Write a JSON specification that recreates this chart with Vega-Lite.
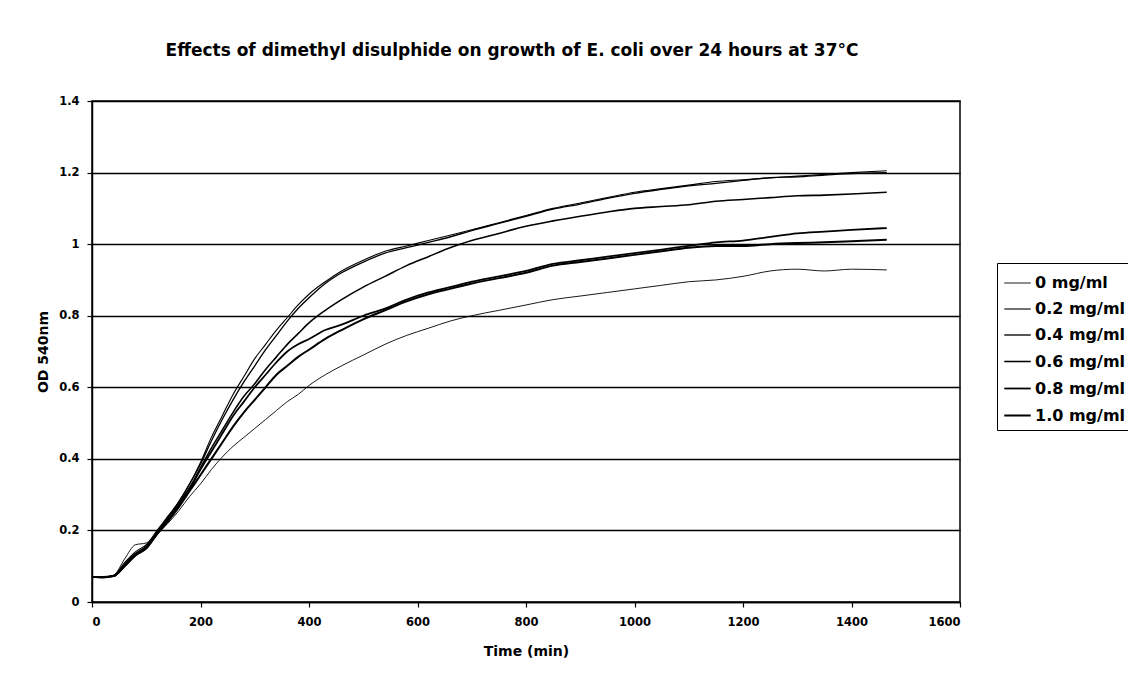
{
  "$schema": "https://vega.github.io/schema/vega-lite/v6.json",
  "width": 868,
  "height": 501,
  "autosize": {"type": "none"},
  "padding": {"left": 92, "top": 101, "right": 168, "bottom": 78},
  "background": "white",
  "title": {
    "text": "Effects of dimethyl disulphide on growth of E. coli over 24 hours at 37°C",
    "font": "DejaVu Sans",
    "fontSize": 17,
    "fontWeight": "bold",
    "color": "black",
    "offset": 35,
    "anchor": "middle",
    "dx": -14
  },
  "datasets": {
    "growth": [
      {"t":0,"od":0.07,"c":"0 mg/ml"},{"t":20,"od":0.07,"c":"0 mg/ml"},{"t":40,"od":0.075,"c":"0 mg/ml"},{"t":60,"od":0.12,"c":"0 mg/ml"},{"t":80,"od":0.16,"c":"0 mg/ml"},{"t":100,"od":0.165,"c":"0 mg/ml"},{"t":120,"od":0.19,"c":"0 mg/ml"},{"t":140,"od":0.22,"c":"0 mg/ml"},{"t":160,"od":0.255,"c":"0 mg/ml"},{"t":180,"od":0.295,"c":"0 mg/ml"},{"t":200,"od":0.33,"c":"0 mg/ml"},{"t":220,"od":0.37,"c":"0 mg/ml"},{"t":240,"od":0.405,"c":"0 mg/ml"},{"t":260,"od":0.435,"c":"0 mg/ml"},{"t":280,"od":0.46,"c":"0 mg/ml"},{"t":300,"od":0.485,"c":"0 mg/ml"},{"t":320,"od":0.51,"c":"0 mg/ml"},{"t":340,"od":0.535,"c":"0 mg/ml"},{"t":360,"od":0.56,"c":"0 mg/ml"},{"t":380,"od":0.58,"c":"0 mg/ml"},{"t":400,"od":0.605,"c":"0 mg/ml"},{"t":430,"od":0.635,"c":"0 mg/ml"},{"t":460,"od":0.66,"c":"0 mg/ml"},{"t":500,"od":0.69,"c":"0 mg/ml"},{"t":540,"od":0.72,"c":"0 mg/ml"},{"t":580,"od":0.745,"c":"0 mg/ml"},{"t":620,"od":0.765,"c":"0 mg/ml"},{"t":660,"od":0.785,"c":"0 mg/ml"},{"t":700,"od":0.8,"c":"0 mg/ml"},{"t":750,"od":0.815,"c":"0 mg/ml"},{"t":800,"od":0.83,"c":"0 mg/ml"},{"t":850,"od":0.845,"c":"0 mg/ml"},{"t":900,"od":0.855,"c":"0 mg/ml"},{"t":950,"od":0.865,"c":"0 mg/ml"},{"t":1000,"od":0.875,"c":"0 mg/ml"},{"t":1050,"od":0.885,"c":"0 mg/ml"},{"t":1100,"od":0.895,"c":"0 mg/ml"},{"t":1150,"od":0.9,"c":"0 mg/ml"},{"t":1200,"od":0.91,"c":"0 mg/ml"},{"t":1250,"od":0.925,"c":"0 mg/ml"},{"t":1300,"od":0.93,"c":"0 mg/ml"},{"t":1350,"od":0.925,"c":"0 mg/ml"},{"t":1400,"od":0.93,"c":"0 mg/ml"},{"t":1465,"od":0.928,"c":"0 mg/ml"},

      {"t":0,"od":0.07,"c":"0.2 mg/ml"},{"t":20,"od":0.07,"c":"0.2 mg/ml"},{"t":40,"od":0.075,"c":"0.2 mg/ml"},{"t":60,"od":0.11,"c":"0.2 mg/ml"},{"t":80,"od":0.14,"c":"0.2 mg/ml"},{"t":100,"od":0.16,"c":"0.2 mg/ml"},{"t":120,"od":0.2,"c":"0.2 mg/ml"},{"t":140,"od":0.24,"c":"0.2 mg/ml"},{"t":160,"od":0.28,"c":"0.2 mg/ml"},{"t":180,"od":0.33,"c":"0.2 mg/ml"},{"t":200,"od":0.39,"c":"0.2 mg/ml"},{"t":220,"od":0.46,"c":"0.2 mg/ml"},{"t":240,"od":0.52,"c":"0.2 mg/ml"},{"t":260,"od":0.58,"c":"0.2 mg/ml"},{"t":280,"od":0.63,"c":"0.2 mg/ml"},{"t":300,"od":0.68,"c":"0.2 mg/ml"},{"t":320,"od":0.72,"c":"0.2 mg/ml"},{"t":340,"od":0.76,"c":"0.2 mg/ml"},{"t":360,"od":0.795,"c":"0.2 mg/ml"},{"t":380,"od":0.83,"c":"0.2 mg/ml"},{"t":400,"od":0.86,"c":"0.2 mg/ml"},{"t":430,"od":0.895,"c":"0.2 mg/ml"},{"t":460,"od":0.925,"c":"0.2 mg/ml"},{"t":500,"od":0.955,"c":"0.2 mg/ml"},{"t":540,"od":0.98,"c":"0.2 mg/ml"},{"t":580,"od":0.995,"c":"0.2 mg/ml"},{"t":620,"od":1.01,"c":"0.2 mg/ml"},{"t":660,"od":1.025,"c":"0.2 mg/ml"},{"t":700,"od":1.04,"c":"0.2 mg/ml"},{"t":750,"od":1.06,"c":"0.2 mg/ml"},{"t":800,"od":1.08,"c":"0.2 mg/ml"},{"t":850,"od":1.1,"c":"0.2 mg/ml"},{"t":900,"od":1.115,"c":"0.2 mg/ml"},{"t":950,"od":1.13,"c":"0.2 mg/ml"},{"t":1000,"od":1.145,"c":"0.2 mg/ml"},{"t":1050,"od":1.155,"c":"0.2 mg/ml"},{"t":1100,"od":1.165,"c":"0.2 mg/ml"},{"t":1150,"od":1.175,"c":"0.2 mg/ml"},{"t":1200,"od":1.18,"c":"0.2 mg/ml"},{"t":1250,"od":1.185,"c":"0.2 mg/ml"},{"t":1300,"od":1.19,"c":"0.2 mg/ml"},{"t":1350,"od":1.195,"c":"0.2 mg/ml"},{"t":1400,"od":1.2,"c":"0.2 mg/ml"},{"t":1465,"od":1.205,"c":"0.2 mg/ml"},

      {"t":0,"od":0.068,"c":"0.4 mg/ml"},{"t":20,"od":0.07,"c":"0.4 mg/ml"},{"t":40,"od":0.073,"c":"0.4 mg/ml"},{"t":60,"od":0.105,"c":"0.4 mg/ml"},{"t":80,"od":0.135,"c":"0.4 mg/ml"},{"t":100,"od":0.155,"c":"0.4 mg/ml"},{"t":120,"od":0.195,"c":"0.4 mg/ml"},{"t":140,"od":0.235,"c":"0.4 mg/ml"},{"t":160,"od":0.28,"c":"0.4 mg/ml"},{"t":180,"od":0.33,"c":"0.4 mg/ml"},{"t":200,"od":0.385,"c":"0.4 mg/ml"},{"t":220,"od":0.45,"c":"0.4 mg/ml"},{"t":240,"od":0.51,"c":"0.4 mg/ml"},{"t":260,"od":0.565,"c":"0.4 mg/ml"},{"t":280,"od":0.615,"c":"0.4 mg/ml"},{"t":300,"od":0.66,"c":"0.4 mg/ml"},{"t":320,"od":0.705,"c":"0.4 mg/ml"},{"t":340,"od":0.745,"c":"0.4 mg/ml"},{"t":360,"od":0.785,"c":"0.4 mg/ml"},{"t":380,"od":0.82,"c":"0.4 mg/ml"},{"t":400,"od":0.85,"c":"0.4 mg/ml"},{"t":430,"od":0.89,"c":"0.4 mg/ml"},{"t":460,"od":0.92,"c":"0.4 mg/ml"},{"t":500,"od":0.95,"c":"0.4 mg/ml"},{"t":540,"od":0.975,"c":"0.4 mg/ml"},{"t":580,"od":0.99,"c":"0.4 mg/ml"},{"t":620,"od":1.005,"c":"0.4 mg/ml"},{"t":660,"od":1.02,"c":"0.4 mg/ml"},{"t":700,"od":1.038,"c":"0.4 mg/ml"},{"t":750,"od":1.058,"c":"0.4 mg/ml"},{"t":800,"od":1.078,"c":"0.4 mg/ml"},{"t":850,"od":1.098,"c":"0.4 mg/ml"},{"t":900,"od":1.112,"c":"0.4 mg/ml"},{"t":950,"od":1.128,"c":"0.4 mg/ml"},{"t":1000,"od":1.142,"c":"0.4 mg/ml"},{"t":1050,"od":1.153,"c":"0.4 mg/ml"},{"t":1100,"od":1.163,"c":"0.4 mg/ml"},{"t":1150,"od":1.17,"c":"0.4 mg/ml"},{"t":1200,"od":1.178,"c":"0.4 mg/ml"},{"t":1250,"od":1.186,"c":"0.4 mg/ml"},{"t":1300,"od":1.188,"c":"0.4 mg/ml"},{"t":1350,"od":1.193,"c":"0.4 mg/ml"},{"t":1400,"od":1.197,"c":"0.4 mg/ml"},{"t":1465,"od":1.2,"c":"0.4 mg/ml"},

      {"t":0,"od":0.07,"c":"0.6 mg/ml"},{"t":20,"od":0.07,"c":"0.6 mg/ml"},{"t":40,"od":0.072,"c":"0.6 mg/ml"},{"t":60,"od":0.105,"c":"0.6 mg/ml"},{"t":80,"od":0.135,"c":"0.6 mg/ml"},{"t":100,"od":0.155,"c":"0.6 mg/ml"},{"t":120,"od":0.195,"c":"0.6 mg/ml"},{"t":140,"od":0.235,"c":"0.6 mg/ml"},{"t":160,"od":0.275,"c":"0.6 mg/ml"},{"t":180,"od":0.32,"c":"0.6 mg/ml"},{"t":200,"od":0.375,"c":"0.6 mg/ml"},{"t":220,"od":0.43,"c":"0.6 mg/ml"},{"t":240,"od":0.48,"c":"0.6 mg/ml"},{"t":260,"od":0.53,"c":"0.6 mg/ml"},{"t":280,"od":0.575,"c":"0.6 mg/ml"},{"t":300,"od":0.61,"c":"0.6 mg/ml"},{"t":320,"od":0.65,"c":"0.6 mg/ml"},{"t":340,"od":0.685,"c":"0.6 mg/ml"},{"t":360,"od":0.72,"c":"0.6 mg/ml"},{"t":380,"od":0.75,"c":"0.6 mg/ml"},{"t":400,"od":0.78,"c":"0.6 mg/ml"},{"t":430,"od":0.815,"c":"0.6 mg/ml"},{"t":460,"od":0.845,"c":"0.6 mg/ml"},{"t":500,"od":0.88,"c":"0.6 mg/ml"},{"t":540,"od":0.91,"c":"0.6 mg/ml"},{"t":580,"od":0.94,"c":"0.6 mg/ml"},{"t":620,"od":0.965,"c":"0.6 mg/ml"},{"t":660,"od":0.99,"c":"0.6 mg/ml"},{"t":700,"od":1.01,"c":"0.6 mg/ml"},{"t":750,"od":1.03,"c":"0.6 mg/ml"},{"t":800,"od":1.05,"c":"0.6 mg/ml"},{"t":850,"od":1.065,"c":"0.6 mg/ml"},{"t":900,"od":1.078,"c":"0.6 mg/ml"},{"t":950,"od":1.09,"c":"0.6 mg/ml"},{"t":1000,"od":1.1,"c":"0.6 mg/ml"},{"t":1050,"od":1.105,"c":"0.6 mg/ml"},{"t":1100,"od":1.11,"c":"0.6 mg/ml"},{"t":1150,"od":1.12,"c":"0.6 mg/ml"},{"t":1200,"od":1.125,"c":"0.6 mg/ml"},{"t":1250,"od":1.13,"c":"0.6 mg/ml"},{"t":1300,"od":1.135,"c":"0.6 mg/ml"},{"t":1350,"od":1.137,"c":"0.6 mg/ml"},{"t":1400,"od":1.14,"c":"0.6 mg/ml"},{"t":1465,"od":1.145,"c":"0.6 mg/ml"},

      {"t":0,"od":0.07,"c":"0.8 mg/ml"},{"t":20,"od":0.068,"c":"0.8 mg/ml"},{"t":40,"od":0.072,"c":"0.8 mg/ml"},{"t":60,"od":0.1,"c":"0.8 mg/ml"},{"t":80,"od":0.13,"c":"0.8 mg/ml"},{"t":100,"od":0.15,"c":"0.8 mg/ml"},{"t":120,"od":0.19,"c":"0.8 mg/ml"},{"t":140,"od":0.23,"c":"0.8 mg/ml"},{"t":160,"od":0.27,"c":"0.8 mg/ml"},{"t":180,"od":0.315,"c":"0.8 mg/ml"},{"t":200,"od":0.37,"c":"0.8 mg/ml"},{"t":220,"od":0.42,"c":"0.8 mg/ml"},{"t":240,"od":0.47,"c":"0.8 mg/ml"},{"t":260,"od":0.52,"c":"0.8 mg/ml"},{"t":280,"od":0.56,"c":"0.8 mg/ml"},{"t":300,"od":0.6,"c":"0.8 mg/ml"},{"t":320,"od":0.635,"c":"0.8 mg/ml"},{"t":340,"od":0.67,"c":"0.8 mg/ml"},{"t":360,"od":0.7,"c":"0.8 mg/ml"},{"t":380,"od":0.72,"c":"0.8 mg/ml"},{"t":400,"od":0.735,"c":"0.8 mg/ml"},{"t":430,"od":0.76,"c":"0.8 mg/ml"},{"t":460,"od":0.775,"c":"0.8 mg/ml"},{"t":500,"od":0.8,"c":"0.8 mg/ml"},{"t":540,"od":0.82,"c":"0.8 mg/ml"},{"t":580,"od":0.845,"c":"0.8 mg/ml"},{"t":620,"od":0.865,"c":"0.8 mg/ml"},{"t":660,"od":0.88,"c":"0.8 mg/ml"},{"t":700,"od":0.895,"c":"0.8 mg/ml"},{"t":750,"od":0.91,"c":"0.8 mg/ml"},{"t":800,"od":0.925,"c":"0.8 mg/ml"},{"t":850,"od":0.945,"c":"0.8 mg/ml"},{"t":900,"od":0.955,"c":"0.8 mg/ml"},{"t":950,"od":0.965,"c":"0.8 mg/ml"},{"t":1000,"od":0.975,"c":"0.8 mg/ml"},{"t":1050,"od":0.985,"c":"0.8 mg/ml"},{"t":1100,"od":0.995,"c":"0.8 mg/ml"},{"t":1150,"od":1.005,"c":"0.8 mg/ml"},{"t":1200,"od":1.01,"c":"0.8 mg/ml"},{"t":1250,"od":1.02,"c":"0.8 mg/ml"},{"t":1300,"od":1.03,"c":"0.8 mg/ml"},{"t":1350,"od":1.035,"c":"0.8 mg/ml"},{"t":1400,"od":1.04,"c":"0.8 mg/ml"},{"t":1465,"od":1.045,"c":"0.8 mg/ml"},

      {"t":0,"od":0.07,"c":"1.0 mg/ml"},{"t":20,"od":0.07,"c":"1.0 mg/ml"},{"t":40,"od":0.073,"c":"1.0 mg/ml"},{"t":60,"od":0.1,"c":"1.0 mg/ml"},{"t":80,"od":0.13,"c":"1.0 mg/ml"},{"t":100,"od":0.15,"c":"1.0 mg/ml"},{"t":120,"od":0.19,"c":"1.0 mg/ml"},{"t":140,"od":0.225,"c":"1.0 mg/ml"},{"t":160,"od":0.265,"c":"1.0 mg/ml"},{"t":180,"od":0.31,"c":"1.0 mg/ml"},{"t":200,"od":0.355,"c":"1.0 mg/ml"},{"t":220,"od":0.4,"c":"1.0 mg/ml"},{"t":240,"od":0.445,"c":"1.0 mg/ml"},{"t":260,"od":0.49,"c":"1.0 mg/ml"},{"t":280,"od":0.53,"c":"1.0 mg/ml"},{"t":300,"od":0.565,"c":"1.0 mg/ml"},{"t":320,"od":0.6,"c":"1.0 mg/ml"},{"t":340,"od":0.635,"c":"1.0 mg/ml"},{"t":360,"od":0.66,"c":"1.0 mg/ml"},{"t":380,"od":0.685,"c":"1.0 mg/ml"},{"t":400,"od":0.705,"c":"1.0 mg/ml"},{"t":430,"od":0.735,"c":"1.0 mg/ml"},{"t":460,"od":0.76,"c":"1.0 mg/ml"},{"t":500,"od":0.79,"c":"1.0 mg/ml"},{"t":540,"od":0.815,"c":"1.0 mg/ml"},{"t":580,"od":0.84,"c":"1.0 mg/ml"},{"t":620,"od":0.86,"c":"1.0 mg/ml"},{"t":660,"od":0.875,"c":"1.0 mg/ml"},{"t":700,"od":0.89,"c":"1.0 mg/ml"},{"t":750,"od":0.905,"c":"1.0 mg/ml"},{"t":800,"od":0.92,"c":"1.0 mg/ml"},{"t":850,"od":0.94,"c":"1.0 mg/ml"},{"t":900,"od":0.95,"c":"1.0 mg/ml"},{"t":950,"od":0.96,"c":"1.0 mg/ml"},{"t":1000,"od":0.97,"c":"1.0 mg/ml"},{"t":1050,"od":0.98,"c":"1.0 mg/ml"},{"t":1100,"od":0.99,"c":"1.0 mg/ml"},{"t":1150,"od":0.995,"c":"1.0 mg/ml"},{"t":1200,"od":0.995,"c":"1.0 mg/ml"},{"t":1250,"od":1.0,"c":"1.0 mg/ml"},{"t":1300,"od":1.003,"c":"1.0 mg/ml"},{"t":1350,"od":1.005,"c":"1.0 mg/ml"},{"t":1400,"od":1.008,"c":"1.0 mg/ml"},{"t":1465,"od":1.012,"c":"1.0 mg/ml"}
    ]
  },
  "data": {"name": "growth"},
  "mark": {"type": "line", "interpolate": "monotone"},
  "encoding": {
    "x": {
      "field": "t", "type": "quantitative",
      "scale": {"domain": [0, 1600], "nice": false, "zero": false},
      "axis": {"title": "Time (min)", "values": [0,200,400,600,800,1000,1200,1400,1600], "format": "d", "grid": false, "labelPadding": 9, "titlePadding": 17}
    },
    "y": {
      "field": "od", "type": "quantitative",
      "scale": {"domain": [0, 1.4], "nice": false},
      "axis": {"title": "OD 540nm", "values": [0,0.2,0.4,0.6,0.8,1,1.2,1.4], "format": "~g", "grid": true, "labelPadding": 8, "titlePadding": 8}
    },
    "color": {
      "field": "c", "type": "nominal",
      "scale": {"domain": ["0 mg/ml","0.2 mg/ml","0.4 mg/ml","0.6 mg/ml","0.8 mg/ml","1.0 mg/ml"], "range": ["#000000","#000000","#000000","#000000","#000000","#000000"]},
      "legend": {
        "title": null, "orient": "none", "legendX": 905, "legendY": 162,
        "symbolType": "stroke", "symbolSize": 700, "symbolStrokeWidth": 1.6,
        "labelFont": "DejaVu Sans", "labelFontSize": 16, "labelFontWeight": "bold", "labelColor": "black",
        "labelOffset": 3, "rowPadding": 4, "padding": 6, "strokeColor": "black", "fillColor": "white"
      }
    },
    "strokeWidth": {
      "field": "c", "type": "nominal",
      "scale": {"domain": ["0 mg/ml","0.2 mg/ml","0.4 mg/ml","0.6 mg/ml","0.8 mg/ml","1.0 mg/ml"], "range": [0.9,2,2,2,2,2]},
      "legend": null
    }
  },
  "config": {
    "view": {"stroke": "black", "strokeWidth": 1.5},
    "axis": {
      "labelFont": "DejaVu Sans", "labelFontSize": 11.5, "labelFontWeight": "bold", "labelColor": "black",
      "titleFont": "DejaVu Sans", "titleFontSize": 14, "titleFontWeight": "bold", "titleColor": "black",
      "domainColor": "black", "domainWidth": 1.5, "tickColor": "black", "tickWidth": 1.2, "tickSize": 5,
      "gridColor": "black", "gridWidth": 1.3, "gridOpacity": 1
    }
  }
}
